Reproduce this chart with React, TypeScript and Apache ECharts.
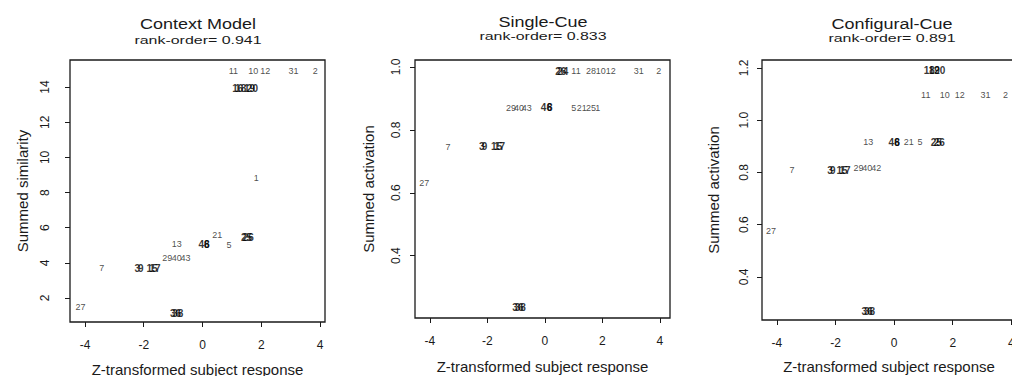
import React, { useEffect, useRef } from "react";
import * as echarts from "echarts";

// ---- data ----
const xTicks = [-4, -2, 0, 2, 4];

// Context Model
const ctxLabels = ["11", "10", "12", "31", "2", "16", "18", "19", "20", "1", "25", "26", "21", "5", "46", "8", "13", "29", "40", "43", "3", "9", "15", "17", "7", "27", "36", "38"];
const ctxX = [1.05, 1.73, 2.14, 3.1, 3.84, 1.2, 1.3, 1.6, 1.7, 1.83, 1.5, 1.56, 0.5, 0.9, 0.05, 0.15, -0.88, -1.2, -0.88, -0.58, -2.22, -2.1, -1.72, -1.62, -3.43, -4.15, -0.92, -0.84];
const ctxY = [14.9, 14.9, 14.9, 14.9, 14.9, 13.9, 13.9, 13.9, 13.9, 8.8, 5.45, 5.45, 5.6, 5.0, 5.03, 5.03, 5.1, 4.3, 4.3, 4.3, 3.66, 3.66, 3.66, 3.66, 3.7, 1.5, 1.14, 1.14];
const ctxYTicks = [2, 4, 6, 8, 10, 12, 14];

// Single-Cue
const scLabels = ["26", "24", "11", "28", "10", "12", "31", "2", "29", "40", "43", "46", "8", "5", "21", "25", "1", "7", "3", "9", "15", "17", "27", "36", "38"];
const scX = [0.55, 0.62, 1.08, 1.6, 1.94, 2.29, 3.26, 3.96, -1.18, -0.9, -0.63, 0.05, 0.17, 1.0, 1.28, 1.6, 1.84, -3.37, -2.2, -2.1, -1.68, -1.58, -4.2, -0.94, -0.86];
const scY = [0.987, 0.987, 0.987, 0.987, 0.987, 0.987, 0.987, 0.987, 0.87, 0.87, 0.87, 0.87, 0.87, 0.87, 0.87, 0.87, 0.87, 0.746, 0.746, 0.746, 0.746, 0.746, 0.632, 0.235, 0.235];
const scYTicks = [0.4, 0.6, 0.8, 1.0];

// Configural-Cue
const ccLabels = ["18", "19", "20", "11", "10", "12", "31", "2", "13", "46", "8", "21", "5", "25", "26", "7", "3", "9", "15", "17", "29", "40", "42", "27", "36", "38"];
const ccX = [1.2, 1.37, 1.56, 1.08, 1.73, 2.24, 3.12, 3.8, -0.88, 0.0, 0.1, 0.5, 0.88, 1.44, 1.54, -3.49, -2.19, -2.09, -1.78, -1.68, -1.22, -0.92, -0.61, -4.2, -0.92, -0.84];
const ccY = [1.19, 1.19, 1.19, 1.096, 1.096, 1.096, 1.096, 1.096, 0.915, 0.915, 0.915, 0.915, 0.915, 0.915, 0.915, 0.808, 0.808, 0.808, 0.808, 0.808, 0.815, 0.815, 0.815, 0.577, 0.269, 0.269];
const ccYTicks = [0.4, 0.6, 0.8, 1.0, 1.2];

const FONT = "Liberation Sans, Arial, Helvetica, sans-serif";
const INK = "#1a1a1a";

type Panel = {
  title: string;
  sub: string;
  yName: string;
  labels: string[];
  xs: number[];
  ys: number[];
  yTicks: number[];
  yDec: number;
  grid: { left: number; top: number; width: number; height: number };
  xMin: number; xMax: number; yMin: number; yMax: number;
  xLabelMargin: number; yLabelMargin: number; xNameGap: number; yNameGap: number;
  titleX: number; titleY: number; subY: number;
};

const panels: Panel[] = [
  {
    title: "Context Model", sub: "rank-order= 0.941", yName: "Summed similarity",
    labels: ctxLabels, xs: ctxX, ys: ctxY, yTicks: ctxYTicks, yDec: 0,
    grid: { left: 70, top: 60, width: 255, height: 262 },
    xMin: -4.51, xMax: 4.17, yMin: 0.635, yMax: 15.54,
    xLabelMargin: 17, yLabelMargin: 19, xNameGap: 40, yNameGap: 40,
    titleX: 198, titleY: 24, subY: 40,
  },
  {
    title: "Single-Cue", sub: "rank-order= 0.833", yName: "Summed activation",
    labels: scLabels, xs: scX, ys: scY, yTicks: scYTicks, yDec: 1,
    grid: { left: 415, top: 60, width: 255, height: 258 },
    xMin: -4.52, xMax: 4.35, yMin: 0.202, yMax: 1.022,
    xLabelMargin: 17, yLabelMargin: 13, xNameGap: 41, yNameGap: 39,
    titleX: 543, titleY: 22, subY: 36,
  },
  {
    title: "Configural-Cue", sub: "rank-order= 0.891", yName: "Summed activation",
    labels: ccLabels, xs: ccX, ys: ccY, yTicks: ccYTicks, yDec: 1,
    grid: { left: 762, top: 60, width: 254, height: 260 },
    xMin: -4.51, xMax: 4.16, yMin: 0.235, yMax: 1.23,
    xLabelMargin: 17, yLabelMargin: 12, xNameGap: 39, yNameGap: 41,
    titleX: 892, titleY: 24, subY: 38,
  },
];

// a label that sits on top of another one (R over-plotting) is drawn heavier
function overlapsAnother(p: Panel, k: number): boolean {
  const xr = p.xMax - p.xMin;
  const yr = p.yMax - p.yMin;
  for (let j = 0; j < p.labels.length; j++) {
    if (j === k) continue;
    if (Math.abs(p.xs[j] - p.xs[k]) < 0.025 * xr && Math.abs(p.ys[j] - p.ys[k]) < 0.02 * yr) return true;
  }
  return false;
}

export default function App() {
  const ref = useRef<HTMLDivElement>(null);
  useEffect(() => {
    if (!ref.current) return;
    const chart = echarts.init(ref.current, undefined, { renderer: "svg" });
    const option: any = {
      animation: false,
      backgroundColor: "#ffffff",
      grid: panels.map((p) => ({
        ...p.grid,
        show: true,
        borderColor: INK,
        borderWidth: 1.3,
        backgroundColor: "transparent",
        containLabel: false,
        outerBoundsMode: "none",
      })),
      xAxis: panels.map((p, i) => ({
        type: "value",
        gridIndex: i,
        min: p.xMin,
        max: p.xMax,
        name: "Z-transformed subject response",
        nameLocation: "middle",
        nameGap: p.xNameGap,
        nameTextStyle: { fontFamily: FONT, fontSize: 15, color: INK },
        axisLine: { show: false, onZero: false },
        axisTick: { show: true, length: 5, inside: false, customValues: xTicks, lineStyle: { color: INK, width: 1 } },
        axisLabel: {
          show: true,
          customValues: xTicks,
          margin: p.xLabelMargin,
          fontFamily: FONT,
          fontSize: 12,
          color: INK,
          formatter: (v: number) => String(v),
        },
        splitLine: { show: false },
      })),
      yAxis: panels.map((p, i) => ({
        type: "value",
        gridIndex: i,
        min: p.yMin,
        max: p.yMax,
        name: p.yName,
        nameLocation: "middle",
        nameGap: p.yNameGap,
        nameTextStyle: { fontFamily: FONT, fontSize: 15, color: INK },
        axisLine: { show: false, onZero: false },
        axisTick: { show: true, length: 5, inside: false, customValues: p.yTicks, lineStyle: { color: INK, width: 1 } },
        axisLabel: {
          show: true,
          customValues: p.yTicks,
          rotate: 90,
          margin: p.yLabelMargin,
          fontFamily: FONT,
          fontSize: 12,
          color: INK,
          formatter: (v: number) => v.toFixed(p.yDec),
        },
        splitLine: { show: false },
      })),
      graphic: panels.flatMap((p) => [
        {
          type: "text",
          x: p.titleX,
          y: p.titleY,
          scaleX: 1.2,
          style: {
            text: p.title,
            font: `15px ${FONT}`,
            fill: INK,
            align: "center",
            verticalAlign: "middle",
            textAlign: "center",
            textVerticalAlign: "middle",
          },
        },
        {
          type: "text",
          x: p.titleX,
          y: p.subY,
          scaleX: 1.45,
          style: {
            text: p.sub,
            font: `11px ${FONT}`,
            fill: INK,
            align: "center",
            verticalAlign: "middle",
            textAlign: "center",
            textVerticalAlign: "middle",
          },
        },
      ]),
      series: panels.map((p, i) => ({
        type: "scatter",
        xAxisIndex: i,
        yAxisIndex: i,
        symbolSize: 1,
        itemStyle: { color: "rgba(0,0,0,0)" },
        label: {
          show: true,
          position: "inside",
          formatter: "{b}",
          fontFamily: FONT,
          fontSize: 9,
          color: INK,
        },
        labelLayout: { hideOverlap: false },
        data: p.labels.map((l, k) => ({
          name: l,
          value: [p.xs[k], p.ys[k]],
          label: overlapsAnother(p, k) ? { fontWeight: "bold", fontSize: 10, color: "#000" } : undefined,
        })),
      })),
    };
    chart.setOption(option);
    return () => chart.dispose();
  }, []);
  return (
    <div
      ref={ref}
      style={{ position: "fixed", left: 0, top: 0, width: 1030, height: 376, background: "#fff" }}
    />
  );
}
